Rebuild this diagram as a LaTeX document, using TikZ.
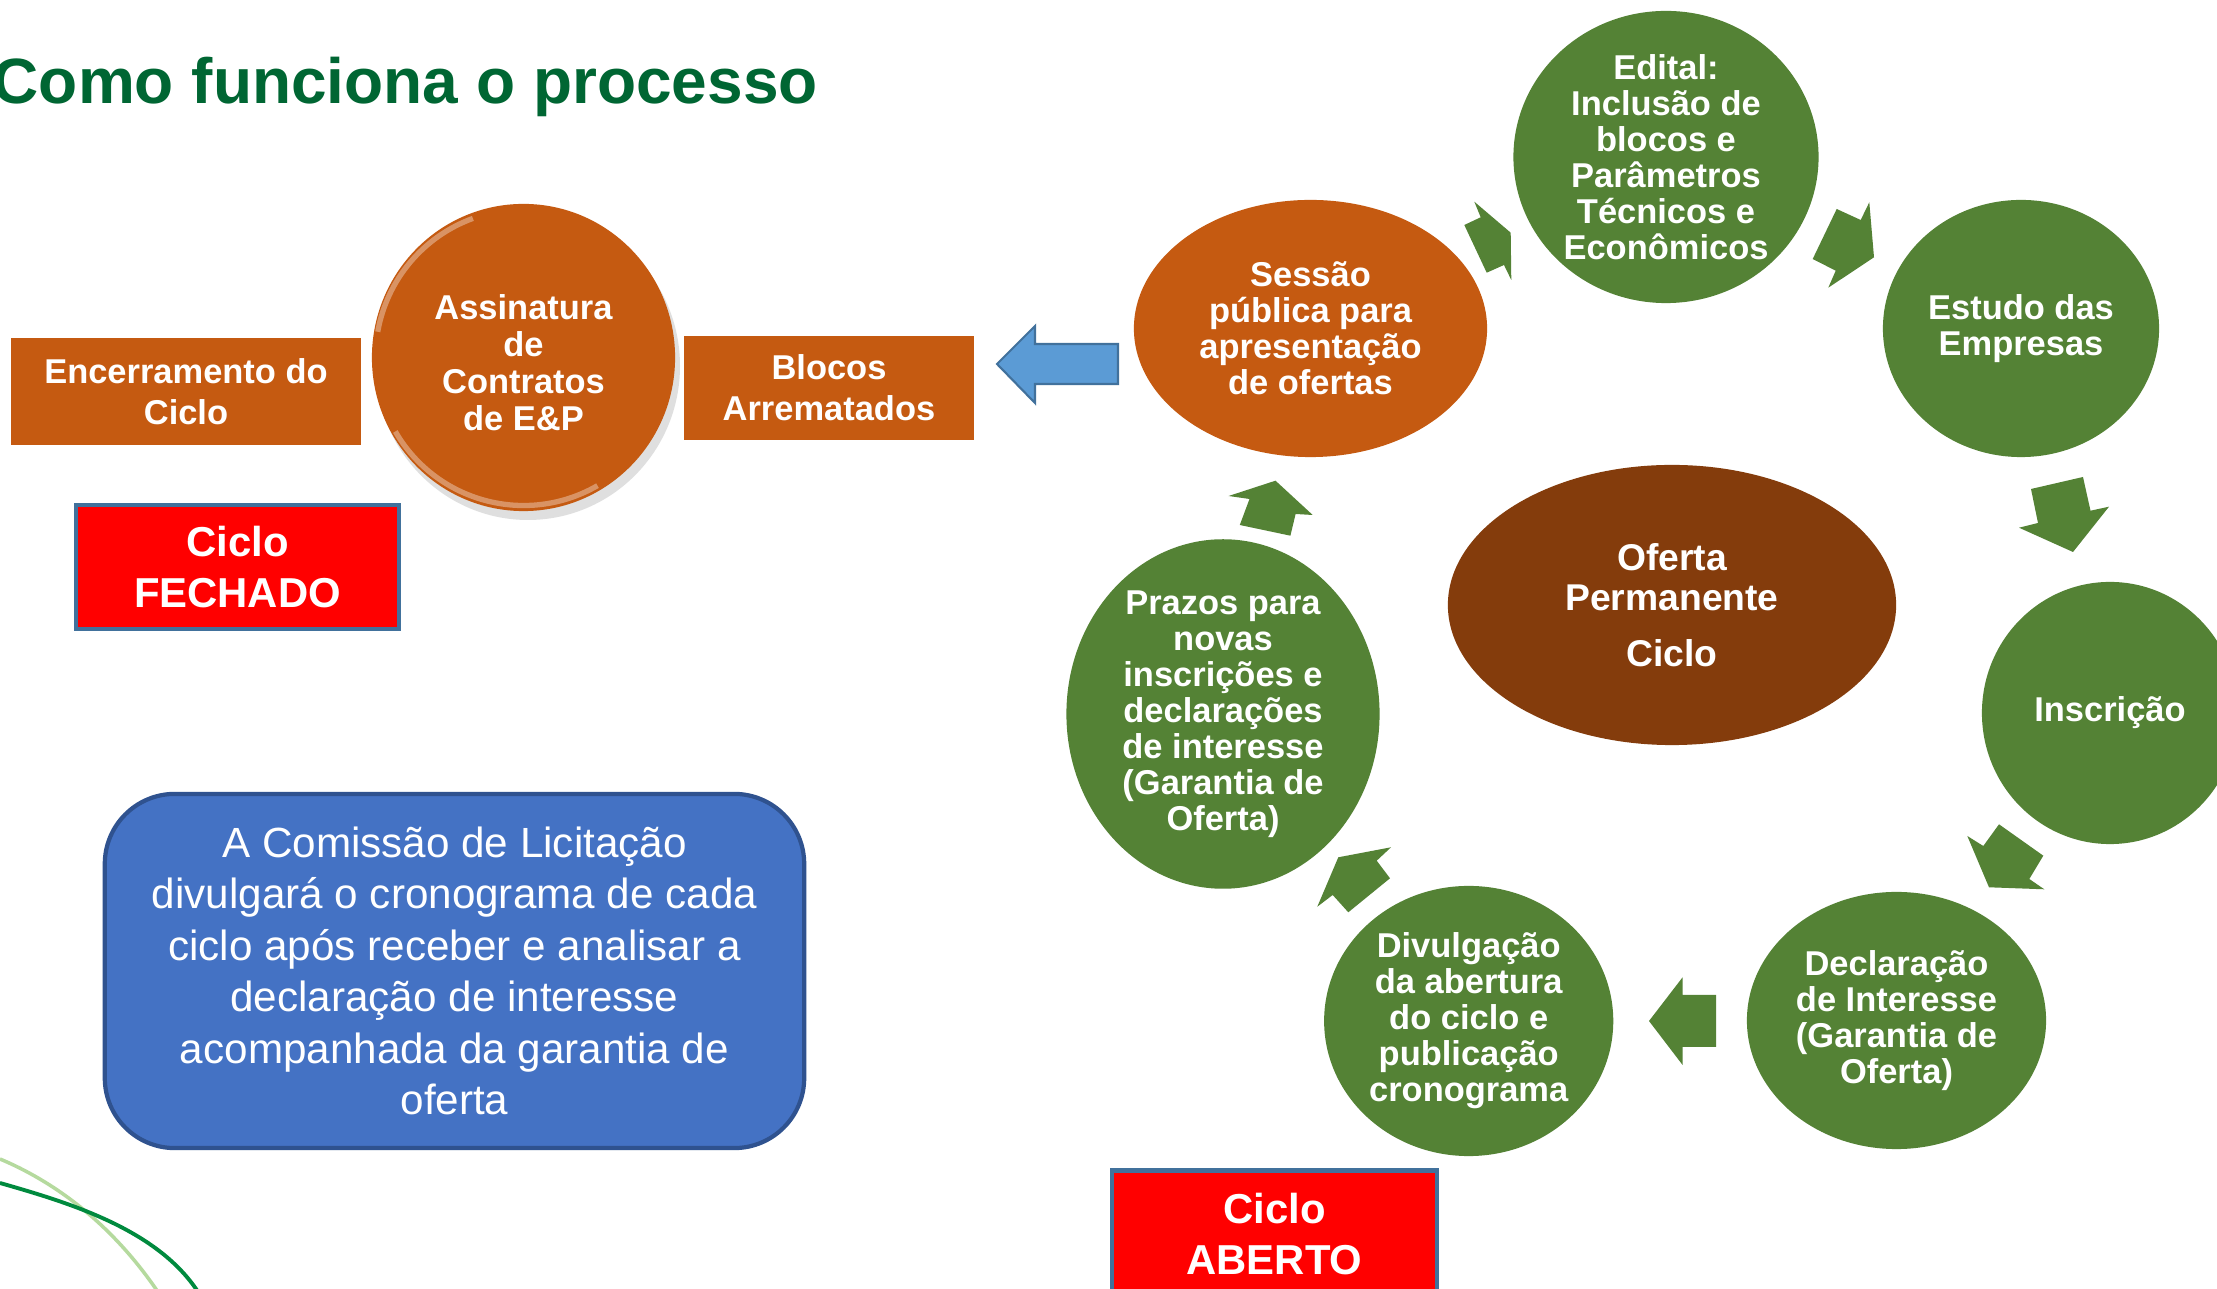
\documentclass[tikz,border=0pt]{standalone}
\usepackage{fontspec}
\setmainfont{Liberation Sans}
\usetikzlibrary{shapes.geometric}
\definecolor{cyclegreen}{HTML}{548235}
\definecolor{cycleorange}{HTML}{C55A11}
\definecolor{cyclebrown}{HTML}{843C0C}
\definecolor{titlegreen}{HTML}{006633}
\definecolor{boxblue}{HTML}{4472C4}
\definecolor{boxblueline}{HTML}{2F528F}
\definecolor{arrowblue}{HTML}{5B9BD5}
\definecolor{arrowline}{HTML}{41719C}
\definecolor{lightswoosh}{HTML}{B5DA9E}
\definecolor{darkswoosh}{HTML}{008A3E}
\newcommand{\stagefont}{\bfseries\fontsize{9.8}{10.25}\selectfont}
\newcommand{\boxfont}{\bfseries\fontsize{9.8}{11.7}\selectfont}
\newcommand{\statusfont}{\bfseries\fontsize{11.9}{14.5}\selectfont}
\tikzset{
  stage/.style={ellipse, fill=cyclegreen, text=white, inner sep=0pt, align=center, font=\stagefont},
  orangebox/.style={rectangle, fill=cycleorange, text=white, inner sep=0pt, align=center, font=\boxfont},
  statusbox/.style={rectangle, fill=red, draw=arrowline, line width=1.2pt, text=white, inner sep=0pt, align=center, font=\statusfont},
  cyclearrow/.style={fill=cyclegreen},
}

\begin{document}
\begin{tikzpicture}[x=0.01cm, y=-0.01cm]
\clip (0,0) rectangle (2217,1289);
\fill[white] (0,0) rectangle (2217,1289);

\node[anchor=base west, inner sep=0pt, text=titlegreen, font=\bfseries\fontsize{18.2}{20}\selectfont] (title) at (-8,104) {Como funciona o processo};

%fechado
\node[orangebox, minimum width=3.50cm, minimum height=1.07cm] (encerramento) at (186,391.5) {Encerramento do\\Ciclo};
\fill[gray, opacity=0.25] (528,366) ellipse (152 and 154);
\node[stage, fill=cycleorange, minimum width=3.03cm, minimum height=3.07cm] (assinatura) at (523.5,357.5) {};
\node[align=center, text=white, inner sep=0pt, font=\bfseries\fontsize{9.8}{10.5}\selectfont] (assinaturatext) at (523.5,363) {Assinatura\\de\\Contratos\\de E\&P};
\draw[white, opacity=0.35, line width=1.5pt] (assinatura.center) ++(150:148) arc (150:60:148);
\draw[white, opacity=0.35, line width=1.5pt] (assinatura.center) ++(250:148) arc (250:190:148);
\node[orangebox, minimum width=2.90cm, minimum height=1.04cm] (blocos) at (829,388) {Blocos\\Arrematados};
\node[statusbox, minimum width=3.23cm, minimum height=1.24cm] (fechado) at (237.5,567) {Ciclo\\FECHADO};

\node[rectangle, rounded corners=0.7cm, fill=boxblue, draw=boxblueline, line width=1.2pt, text=white, align=center, inner sep=0pt, minimum width=6.99cm, minimum height=3.54cm, font=\fontsize{12}{14.65}\selectfont] (comissao) at (454.5,971) {A Comissão de Licitação\\divulgará o cronograma de cada\\ciclo após receber e analisar a\\declaração de interesse\\acompanhada da garantia de\\oferta};

%aberto
\node[stage, fill=cycleorange, minimum width=3.53cm, minimum height=2.57cm] (sessao) at (1310.5,328.5) {Sessão\\pública para\\apresentação\\de ofertas};
\node[stage, minimum width=3.05cm, minimum height=2.92cm] (edital) at (1666,157) {Edital:\\Inclusão de\\blocos e\\Parâmetros\\Técnicos e\\Econômicos};
\node[stage, minimum width=2.76cm, minimum height=2.57cm] (estudo) at (2021,328.5) {Estudo das\\Empresas};
\node[stage, minimum width=2.56cm, minimum height=2.62cm] (inscricao) at (2110,713) {Inscrição};
\node[stage, minimum width=2.99cm, minimum height=2.57cm] (declaracao) at (1896.5,1020.5) {Declaração\\de Interesse\\(Garantia de\\Oferta)};
\node[stage, minimum width=2.89cm, minimum height=2.70cm] (divulgacao) at (1468.7,1021) {Divulgação\\da abertura\\do ciclo e\\publicação\\cronograma};
\node[stage, minimum width=3.13cm, minimum height=3.28cm] (prazos) at (1223,714) {Prazos para\\novas\\inscrições e\\declarações\\de interesse\\(Garantia de\\Oferta)};
\node[stage, fill=cyclebrown, minimum width=4.48cm, minimum height=2.80cm, font=\bfseries\fontsize{10.6}{11.4}\selectfont] (oferta) at (1672,605) {Oferta\\Permanente\\[4.5pt]Ciclo};
\node[statusbox, minimum width=3.25cm, minimum height=1.27cm] (aberto) at (1274.5,1234) {Ciclo\\ABERTO};

%arrows
\filldraw[fill=arrowblue, draw=arrowline, line width=0.6pt] (997,364) -- (1035,326) -- (1035,344) -- (1118,344) -- (1118,384) -- (1035,384) -- (1035,403) -- cycle;
\fill[cyclearrow] (1474.3,201.7) -- (1510.7,232.7) -- (1511.3,280) -- (1504,265) -- (1486.7,272.7) -- (1464.3,225) -- (1480.7,217.3) -- cycle;
\fill[cyclearrow] (1836.7,209) -- (1860.7,220) -- (1869.3,202.3) -- (1874,257.3) -- (1828.3,287.7) -- (1835.7,270.7) -- (1812.7,259) -- cycle;
\fill[cyclearrow] (2031,489) -- (2083,477) -- (2090.5,510.7) -- (2109,506.7) -- (2073,552) -- (2019,527.7) -- (2038,523) -- cycle;
\fill[cyclearrow] (1999,824.3) -- (2043.3,855.7) -- (2029.3,879) -- (2044.3,889.3) -- (1989,887.3) -- (1967.3,836) -- (1983.3,846) -- cycle;
\fill[cyclearrow] (1682.6,977.3) -- (1682.6,995) -- (1716,995) -- (1716,1047) -- (1682.6,1047) -- (1682.6,1065) -- (1649,1021) -- cycle;
\fill[cyclearrow] (1338.3,857.3) -- (1391,847.3) -- (1376.7,860.7) -- (1390,878.3) -- (1348.3,912.3) -- (1332.7,895) -- (1317.3,906.7) -- cycle;
\fill[cyclearrow] (1275.5,480.7) -- (1312.7,515) -- (1295.6,514) -- (1290.4,535.7) -- (1239.8,525) -- (1249.5,499) -- (1228.6,496) -- cycle;

%swoosh
\draw[lightswoosh, line width=1pt] (0,1159) .. controls (50,1180) and (110,1220) .. (160,1295);
\draw[darkswoosh, line width=1.1pt] (0,1183) .. controls (70,1203) and (160,1230) .. (200,1295);
\end{tikzpicture}
\end{document}
